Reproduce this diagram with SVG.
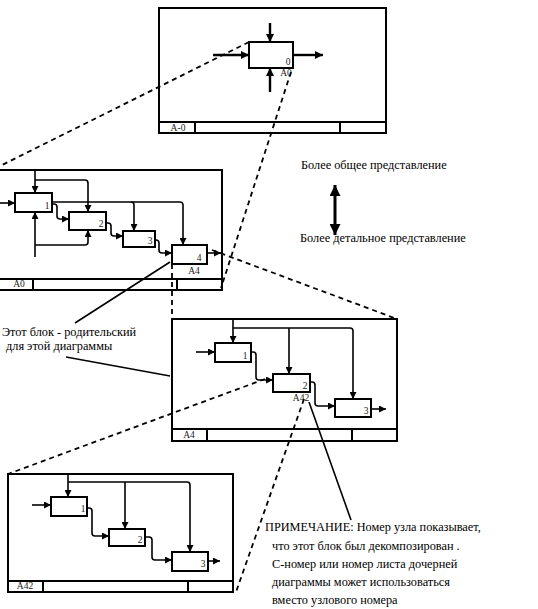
<svg xmlns="http://www.w3.org/2000/svg" width="538" height="609" viewBox="0 0 538 609">
<defs>
<style>
.fr{fill:none;stroke:#000;stroke-width:2}
.bx{fill:#fff;stroke:#000;stroke-width:2}
.ln{fill:none;stroke:#000;stroke-width:1.6}
.tk{fill:none;stroke:#000;stroke-width:2.4}
.ds{fill:none;stroke:#000;stroke-width:1.8;stroke-dasharray:5 4}
.pt{fill:none;stroke:#000;stroke-width:1.6}
.t{font-family:"Liberation Serif","Times New Roman",serif;font-size:12.3px;fill:#000}
.s{font-family:"Liberation Serif","Times New Roman",serif;font-size:9.5px;fill:#222}
</style>
<marker id="a" viewBox="0 0 10 10" refX="10" refY="5" markerWidth="9" markerHeight="7" markerUnits="userSpaceOnUse" orient="auto"><path d="M0,0 L10,5 L0,10 Z" fill="#000"/></marker>
<marker id="ab" viewBox="0 0 10 10" refX="10" refY="5" markerWidth="10" markerHeight="8" markerUnits="userSpaceOnUse" orient="auto"><path d="M0,0 L10,5 L0,10 Z" fill="#000"/></marker>
<marker id="ad" viewBox="0 0 10 10" refX="10" refY="5" markerWidth="16" markerHeight="11" markerUnits="userSpaceOnUse" orient="auto-start-reverse"><path d="M0,0 L10,5 L0,10 Z" fill="#000"/></marker>
</defs>
<rect width="538" height="609" fill="#fff"/>

<g id="diagram-A-0">
<rect class="fr" x="159" y="8" width="227" height="125"/>
<path class="fr" d="M159,122 H386 M195,122 V133 M340,122 V133"/>
<text class="s" x="178" y="131" text-anchor="middle">A-0</text>
</g>
<g id="box-A-0">
<rect class="bx" x="249" y="42" width="44" height="26"/>
<text class="s" x="288" y="65" text-anchor="middle">0</text>
<text class="s" x="286" y="76" text-anchor="middle">A0</text>
</g>

<g id="diagram-A0">
<rect class="fr" x="-5" y="170" width="227" height="120"/>
<path class="fr" d="M-5,279 H222 M33,279 V290 M177,279 V290"/>
<text class="s" x="19" y="287" text-anchor="middle">A0</text>
</g>
<g id="A0-box1"><rect class="bx" x="15" y="193" width="37" height="19"/><text class="s" x="47" y="209" text-anchor="middle">1</text></g>
<g id="A0-box2"><rect class="bx" x="69" y="212" width="37" height="18"/><text class="s" x="101" y="227" text-anchor="middle">2</text></g>
<g id="A0-box3"><rect class="bx" x="123" y="231" width="32" height="16"/><text class="s" x="150" y="244" text-anchor="middle">3</text></g>
<g id="A0-box4"><rect class="bx" x="172" y="245" width="35" height="19"/><text class="s" x="199" y="261" text-anchor="middle">4</text><text class="s" x="194" y="274" text-anchor="middle">A4</text></g>

<g id="diagram-A4">
<rect class="fr" x="172" y="319" width="225" height="122"/>
<path class="fr" d="M172,429 H397 M207,429 V441 M352,429 V441"/>
<text class="s" x="189" y="438" text-anchor="middle">A4</text>
</g>
<g id="A4-box1"><rect class="bx" x="215" y="343" width="36" height="19"/><text class="s" x="245" y="359" text-anchor="middle">1</text></g>
<g id="A4-box2"><rect class="bx" x="273" y="374" width="37" height="18"/><text class="s" x="305" y="389" text-anchor="middle">2</text><text class="s" x="301" y="401" text-anchor="middle">A42</text></g>
<g id="A4-box3"><rect class="bx" x="335" y="399" width="36" height="18"/><text class="s" x="366" y="414" text-anchor="middle">3</text></g>

<g id="diagram-A42">
<rect class="fr" x="8" y="474" width="225" height="118"/>
<path class="fr" d="M8,581 H233 M43,581 V592 M188,581 V592"/>
<text class="s" x="25" y="589" text-anchor="middle">A42</text>
</g>
<g id="A42-box1"><rect class="bx" x="51" y="497" width="36" height="19"/><text class="s" x="83" y="512" text-anchor="middle">1</text></g>
<g id="A42-box2"><rect class="bx" x="109" y="529" width="36" height="17"/><text class="s" x="140" y="543" text-anchor="middle">2</text></g>
<g id="A42-box3"><rect class="bx" x="172" y="552" width="36" height="19"/><text class="s" x="203" y="567" text-anchor="middle">3</text></g>

<g id="connectors">
<!-- top -->
<path class="tk" d="M270,23 V42" marker-end="url(#ab)"/>
<path class="tk" d="M213,55 H249" marker-end="url(#ab)"/>
<path class="tk" d="M293,55 H323" marker-end="url(#ab)"/>
<path class="tk" d="M270,92 V68" marker-end="url(#ab)"/>
<!-- A0 -->
<path class="ln" d="M0,203 H15" marker-end="url(#a)"/>
<path class="ln" d="M35,170 V193" marker-end="url(#a)"/>
<path class="ln" d="M35,180 H85 Q88,180 88,183 V212" marker-end="url(#a)"/>
<path class="ln" d="M35,257 V212" marker-end="url(#a)"/>
<path class="ln" d="M35,245 H85 Q88,245 88,242 V230" marker-end="url(#a)"/>
<path class="ln" d="M52,202 H180 Q183,202 183,205 V245" marker-end="url(#a)"/>
<path class="ln" d="M131,202 Q134,202 134,205 V231" marker-end="url(#a)"/>
<path class="ln" d="M52,204 H54 Q57,204 57,207 V216 Q57,219 60,219 H69" marker-end="url(#a)"/>
<path class="ln" d="M106,223 H108 Q111,223 111,226 V233 Q111,236 114,236 H123" marker-end="url(#a)"/>
<path class="ln" d="M155,240 H156 Q159,240 159,243 V250 Q159,253 162,253 H172" marker-end="url(#a)"/>
<path class="ln" d="M207,253 H221" marker-end="url(#a)"/>
<!-- A4 -->
<path class="ln" d="M196,352 H215" marker-end="url(#a)"/>
<path class="ln" d="M233,319 V343" marker-end="url(#a)"/>
<path class="ln" d="M233,328 H350 Q353,328 353,331 V399" marker-end="url(#a)"/>
<path class="ln" d="M289,328 V374" marker-end="url(#a)"/>
<path class="ln" d="M251,352 H253 Q256,352 256,355 V377 Q256,380 259,380 H273" marker-end="url(#a)"/>
<path class="ln" d="M310,382 H312 Q315,382 315,385 V403 Q315,406 318,406 H335" marker-end="url(#a)"/>
<path class="ln" d="M371,409 H386" marker-end="url(#a)"/>
<!-- A42 -->
<path class="ln" d="M32,505 H51" marker-end="url(#a)"/>
<path class="ln" d="M68,474 V497" marker-end="url(#a)"/>
<path class="ln" d="M68,482 H187 Q190,482 190,485 V552" marker-end="url(#a)"/>
<path class="ln" d="M125,482 V529" marker-end="url(#a)"/>
<path class="ln" d="M87,508 H89 Q92,508 92,511 V533 Q92,536 95,536 H109" marker-end="url(#a)"/>
<path class="ln" d="M145,537 H149 Q152,537 152,540 V557 Q152,560 155,560 H172" marker-end="url(#a)"/>
<path class="ln" d="M208,561 H220" marker-end="url(#a)"/>
<!-- dashed decomposition lines -->
<path class="ds" d="M249,42 L0,166"/>
<path class="ds" d="M291,72 L221,288"/>
<path class="ds" d="M172,264 L172,320"/>
<path class="ds" d="M212,250 L397,319"/>
<path class="ds" d="M265,379 L8,474"/>
<path class="ds" d="M304,399 L236,592"/>
<!-- pointer lines -->
<path class="pt" d="M170,262 L75,323"/>
<path class="pt" d="M66,357 L170,376"/>
<path class="pt" d="M309,402 L351,520"/>
<!-- double arrow -->
<path d="M335,185 V235" stroke="#000" stroke-width="3" fill="none" marker-start="url(#ad)" marker-end="url(#ad)"/>
</g>

<g id="texts">
<text class="t" x="301" y="169">Более общее представление</text>
<text class="t" x="300" y="242">Более детальное представление</text>
<text class="t" x="2" y="336">Этот блок - родительский</text>
<text class="t" x="6" y="350">для этой диаграммы</text>
<text class="t" x="265" y="531">ПРИМЕЧАНИЕ: Номер узла показывает,</text>
<text class="t" x="272" y="550">что этот блок был декомпозирован .</text>
<text class="t" x="272" y="568">С-номер или номер листа дочерней</text>
<text class="t" x="272" y="586">диаграммы может использоваться</text>
<text class="t" x="272" y="604">вместо узлового номера</text>
</g>
</svg>
